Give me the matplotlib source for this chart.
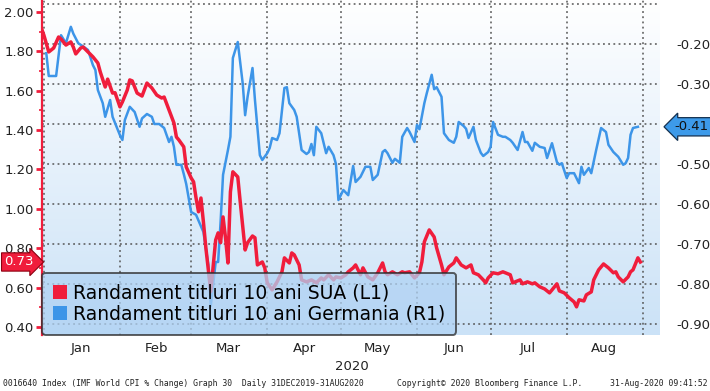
import numpy as np
import pandas as pd
import matplotlib
matplotlib.use("Agg")
import matplotlib.pyplot as plt
import matplotlib.dates as mdates
from matplotlib.patches import Patch
from matplotlib.ticker import MultipleLocator, FixedLocator

# 10y Bund yield (right axis)
de_dates = (
    ["2020-01-%s" % d for d in ["02", "03", "06", "08", "10", "12", "13", "15", "17", "19", "21", "22", "23", "25", "26", "28", "29"]]
    + ["2020-02-%s" % d for d in ["01", "02", "03", "05", "07", "09", "10", "12", "14", "15", "17", "19", "21", "22", "23", "24", "26", "27", "28"]]
    + ["2020-03-%s" % d for d in ["01", "03", "06", "08", "09", "11", "12", "13", "14", "16", "17", "18", "20", "22", "23", "24", "26", "27", "29", "30"]]
    + ["2020-04-%s" % d for d in ["01", "02", "03", "05", "06", "08", "09", "10", "12", "13", "15", "17", "18", "19", "20", "21", "23", "25", "26", "28", "29", "30"]]
    + ["2020-05-%s" % d for d in ["02", "04", "06", "07", "09", "11", "13", "14", "16", "18", "19", "20", "22", "23", "25", "26", "28", "29", "31"]]
    + ["2020-06-%s" % d for d in ["01", "02", "04", "05", "07", "08", "09", "11", "12", "14", "16", "17", "18", "20", "21", "22", "24", "25", "27", "28", "30"]]
    + ["2020-07-%s" % d for d in ["01", "02", "04", "06", "07", "09", "10", "12", "14", "15", "16", "18", "19", "21", "23", "24", "26", "28", "29", "30"]]
    + ["2020-08-%s" % d for d in ["01", "02", "04", "06", "07", "08", "10", "11", "13", "15", "17", "18", "20", "22", "24", "25", "26", "27", "28", "30"]]
)
de_yield = [
    -0.223, -0.28, -0.28, -0.178, -0.198, -0.157, -0.174, -0.198, -0.206, -0.215, -0.253, -0.265, -0.315, -0.348, -0.382, -0.34, -0.382,
    -0.428, -0.44, -0.39, -0.357, -0.37, -0.407, -0.386, -0.375, -0.382, -0.40, -0.40, -0.41, -0.445, -0.432, -0.457, -0.502, -0.502, -0.525, -0.55,
    -0.62, -0.627, -0.67, -0.752, -0.855, -0.745, -0.745, -0.645, -0.527, -0.465, -0.432, -0.235, -0.195, -0.298, -0.378, -0.332, -0.26, -0.34, -0.478, -0.49,
    -0.473, -0.46, -0.435, -0.44, -0.423, -0.31, -0.308, -0.348, -0.365, -0.382, -0.465, -0.475, -0.47, -0.45, -0.478, -0.407, -0.423, -0.473, -0.457, -0.478, -0.50, -0.59,
    -0.565, -0.578, -0.505, -0.545, -0.532, -0.507, -0.507, -0.54, -0.527, -0.47, -0.465, -0.473, -0.497, -0.487, -0.497, -0.432, -0.41, -0.42, -0.445,
    -0.402, -0.413, -0.348, -0.323, -0.277, -0.313, -0.308, -0.332, -0.423, -0.44, -0.447, -0.432, -0.395, -0.405, -0.412, -0.435, -0.407, -0.44, -0.472, -0.48, -0.47,
    -0.457, -0.395, -0.427, -0.432, -0.432, -0.44, -0.447, -0.465, -0.42, -0.445, -0.445, -0.467, -0.447, -0.457, -0.46, -0.485, -0.448, -0.495, -0.502, -0.498,
    -0.535, -0.523, -0.523, -0.548, -0.507, -0.527, -0.51, -0.523, -0.465, -0.41, -0.42, -0.452, -0.47, -0.482, -0.502, -0.498, -0.485, -0.427, -0.41, -0.407,
]

# 10y US Treasury yield (left axis)
us_dates = (
    ["2019-12-31"]
    + ["2020-01-%s" % d for d in ["01", "03", "05", "07", "08", "10", "12", "13", "14", "16", "17", "19", "21", "23", "24", "26", "27", "29", "30"]]
    + ["2020-02-%s" % d for d in ["01", "02", "04", "05", "06", "08", "10", "12", "14", "16", "18", "19", "21", "23", "24", "25", "27", "28"]]
    + ["2020-03-%s" % d for d in ["01", "02", "03", "04", "05", "06", "07", "09", "11", "12", "13", "14", "15", "16", "17", "18", "20", "21", "23", "24", "26", "27", "28", "30", "31"]]
    + ["2020-04-%s" % d for d in ["01", "03", "05", "07", "08", "10", "11", "12", "14", "15", "17", "19", "21", "23", "24", "26", "28", "29"]]
    + ["2020-05-%s" % d for d in ["01", "03", "04", "06", "07", "09", "10", "12", "14", "16", "18", "19", "20", "22", "24", "26", "27", "29", "31"]]
    + ["2020-06-%s" % d for d in ["02", "03", "04", "06", "08", "09", "11", "12", "14", "16", "17", "19", "21", "23", "24", "26", "28", "29", "30"]]
    + ["2020-07-%s" % d for d in ["02", "04", "06", "07", "09", "10", "13", "14", "16", "18", "19", "21", "23", "25", "26", "28", "29", "31"]]
    + ["2020-08-%s" % d for d in ["02", "04", "05", "06", "08", "09", "11", "12", "14", "16", "18", "20", "21", "22", "24", "26", "27", "28", "30", "31"]]
)
us_yield = [
    1.918, 1.883, 1.797, 1.817, 1.873, 1.863, 1.832, 1.848, 1.822, 1.787, 1.817, 1.822, 1.797, 1.772, 1.741, 1.695, 1.619, 1.659, 1.588, 1.59,
    1.518, 1.543, 1.604, 1.655, 1.65, 1.588, 1.573, 1.639, 1.614, 1.578, 1.563, 1.568, 1.502, 1.436, 1.365, 1.35, 1.315, 1.213,
    1.157, 1.137, 1.055, 0.985, 1.055, 0.934, 0.802, 0.58, 0.842, 0.878, 0.828, 0.959, 0.853, 0.725, 1.086, 1.188, 1.162, 1.035, 0.791, 0.828, 0.862, 0.853, 0.715, 0.73, 0.70,
    0.624, 0.588, 0.629, 0.68, 0.751, 0.725, 0.776, 0.766, 0.715, 0.639, 0.629, 0.639, 0.624, 0.649, 0.639, 0.665, 0.639, 0.654,
    0.649, 0.665, 0.68, 0.70, 0.715, 0.665, 0.70, 0.654, 0.639, 0.675, 0.725, 0.68, 0.665, 0.68, 0.665, 0.68, 0.675, 0.68, 0.649,
    0.675, 0.73, 0.832, 0.893, 0.857, 0.802, 0.715, 0.665, 0.705, 0.725, 0.751, 0.715, 0.70, 0.715, 0.675, 0.665, 0.639, 0.624, 0.649,
    0.675, 0.67, 0.68, 0.675, 0.665, 0.624, 0.639, 0.619, 0.629, 0.619, 0.624, 0.604, 0.593, 0.573, 0.588, 0.619, 0.583, 0.573,
    0.548, 0.527, 0.502, 0.538, 0.532, 0.563, 0.578, 0.639, 0.69, 0.72, 0.70, 0.675, 0.68, 0.654, 0.629, 0.654, 0.68, 0.69, 0.751, 0.73,
]

us_label = "Randament titluri 10 ani SUA (L1)"
de_label = "Randament titluri 10 ani Germania (R1)"
us_last = "0.73"
de_last = "-0.41"

RED = "#f01d3c"
BLUE = "#3d95e8"

fig = plt.figure(figsize=(7.10, 3.91), dpi=100)
ax = fig.add_axes([42 / 710, 1 - 335 / 391, 618 / 710, 335 / 391])
ax2 = ax.twinx()

# gradient background
grad = np.linspace(0, 1, 256).reshape(-1, 1)
cmap = matplotlib.colors.LinearSegmentedColormap.from_list("bg", ["#cbe2f7", "#ffffff"])
ax.imshow(grad, extent=[0, 1, 0, 1], transform=ax.transAxes, aspect="auto",
          cmap=cmap, origin="lower", zorder=0)

de_x = pd.to_datetime(de_dates)
us_x = pd.to_datetime(us_dates)

ax.plot(de_x, de_yield, color=BLUE, lw=1.8, zorder=3)
ax2.plot(us_x, us_yield, color=RED, lw=2.5, zorder=3)

ax.set_xlim(pd.Timestamp("2019-12-31 06:00"), pd.Timestamp("2020-09-08"))
ax.set_ylim(-0.9275, -0.09)
ax2.set_ylim(0.359, 2.061)

# x axis: month labels mid-month, grid at month starts
ax.xaxis.set_major_locator(mdates.MonthLocator(bymonthday=16))
ax.xaxis.set_major_formatter(mdates.DateFormatter("%b"))
ax.xaxis.set_minor_locator(mdates.MonthLocator(bymonthday=1))
ax.tick_params(axis="x", which="both", length=0, pad=5, labelsize=9.5, colors="#222222")
ax.grid(True, axis="x", which="minor", ls=(0, (1.2, 2.2)), color="#555555", lw=1.1)

# right axis (Germany) drives the horizontal grid
ax.yaxis.tick_right()
ax.yaxis.set_major_locator(FixedLocator([-0.1, -0.2, -0.3, -0.4, -0.5, -0.6, -0.7, -0.8, -0.9]))
ax.yaxis.set_major_formatter(matplotlib.ticker.FuncFormatter(
    lambda v, p: "" if abs(v + 0.1) < 1e-6 or abs(v + 0.4) < 1e-6 else "%.2f" % v))
ax.tick_params(axis="y", length=0, pad=12, labelsize=9.5, colors="#222222")
ax.grid(True, axis="y", which="major", ls=(0, (1.2, 2.2)), color="#555555", lw=1.1)

# left axis (US)
ax2.yaxis.tick_left()
ax2.yaxis.set_major_locator(MultipleLocator(0.2))
ax2.yaxis.set_minor_locator(MultipleLocator(0.1))
ax2.yaxis.set_major_formatter(matplotlib.ticker.FormatStrFormatter("%.2f"))
ax2.tick_params(axis="y", which="major", length=4, width=2, color=RED, pad=2,
                labelsize=9.5, labelcolor="#222222")
ax2.tick_params(axis="y", which="minor", length=2.5, width=1.2, color=RED)

for a in (ax, ax2):
    for s in a.spines.values():
        s.set_visible(False)
ax2.spines["left"].set_visible(True)
ax2.spines["left"].set_color(RED)
ax2.spines["left"].set_linewidth(1.6)

# legend
handles = [Patch(facecolor=RED, edgecolor="none", label=us_label),
           Patch(facecolor=BLUE, edgecolor="none", label=de_label)]
leg = ax2.legend(handles=handles, loc="lower left", bbox_to_anchor=(0, 0),
                 borderaxespad=0, fontsize=13.5, handlelength=0.75, handleheight=0.75,
                 handletextpad=0.3, labelspacing=0.1, borderpad=0.6,
                 facecolor="#b0d2f3", framealpha=0.75, edgecolor="#2b2b2b",
                 fancybox=True)
leg.get_frame().set_linewidth(1.4)
leg.set_zorder(10)

# last-value tags
ax2.annotate(us_last, xy=(0, us_yield[-1]), xycoords=("axes fraction", "data"),
             xytext=(-6, 0), textcoords="offset points", ha="right", va="center",
             fontsize=9.5, color="white", annotation_clip=False,
             bbox=dict(boxstyle="rarrow,pad=0.2", fc=RED, ec="#8b0010", lw=0.8), zorder=20)
ax.annotate(de_last, xy=(1, de_yield[-1]), xycoords=("axes fraction", "data"),
            xytext=(10, 0), textcoords="offset points", ha="left", va="center",
            fontsize=9.5, color="#111111", annotation_clip=False,
            bbox=dict(boxstyle="larrow,pad=0.2", fc="#3d9ae9", ec="#14304f", lw=0.9), zorder=20)

fig.text(352 / 710, 1 - 366 / 391, "2020", ha="center", va="center", fontsize=9.5, color="#222222")

mono = dict(family="DejaVu Sans Mono", fontsize=5.9, color="#222222", va="center")
fig.text(3 / 710, 1 - 383 / 391, "0016640 Index (IMF World CPI % Change) Graph 30  Daily 31DEC2019-31AUG2020", **mono)
fig.text(397 / 710, 1 - 383 / 391, "Copyright\u00a9 2020 Bloomberg Finance L.P.", **mono)
fig.text(708 / 710, 1 - 383 / 391, "31-Aug-2020 09:41:52", ha="right", **mono)

fig.savefig("out.png", dpi=100)
